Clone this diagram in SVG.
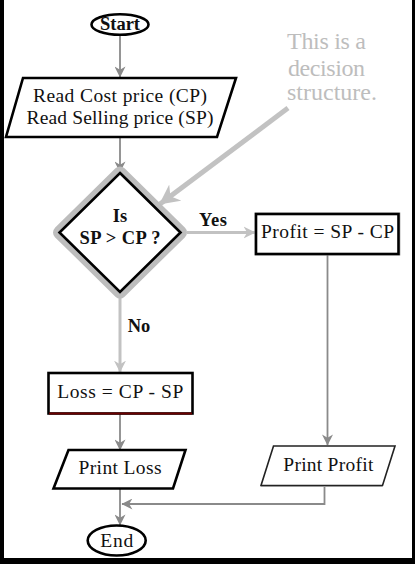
<svg xmlns="http://www.w3.org/2000/svg" width="415" height="564" viewBox="0 0 415 564">
<style>
.t{font-family:"Liberation Serif","Times New Roman",serif;font-size:19.5px;fill:#111;text-anchor:middle}
.b{font-weight:bold;font-size:18.5px}
.node{fill:#fff;stroke:#000;stroke-width:2.6}
.c1{fill:none;stroke:#8a8a8a;stroke-width:1.8}
.c2{fill:none;stroke:#c2c2c2;stroke-width:3}
.note{font-family:"Liberation Serif","Times New Roman",serif;font-size:24px;fill:#bdbdbd}
</style>
<defs>
<marker id="ad" viewBox="0 0 10 10" refX="9.5" refY="5" markerUnits="userSpaceOnUse" markerWidth="12" markerHeight="11" orient="auto">
<path d="M0,0 L10,5 L0,10 L3,5 Z" fill="#8a8a8a"/>
</marker>
<marker id="al" viewBox="0 0 10 10" refX="9.5" refY="5" markerUnits="userSpaceOnUse" markerWidth="12" markerHeight="13" orient="auto">
<path d="M0,0 L10,5 L0,10 L3,5 Z" fill="#c2c2c2"/>
</marker>
<marker id="ab" viewBox="0 0 10 10" refX="9.5" refY="5" markerUnits="userSpaceOnUse" markerWidth="20" markerHeight="20" orient="auto">
<path d="M0,0 L10,5 L0,10 L3,5 Z" fill="#c2c2c2"/>
</marker>
</defs>
<rect x="0" y="0" width="415" height="564" fill="#fff"/>
<rect x="0" y="0" width="4" height="564" fill="#000"/>
<rect x="412" y="0" width="3" height="564" fill="#000"/>
<rect x="0" y="558" width="415" height="6" fill="#000"/>

<g id="connectors">
<line class="c1" x1="120" y1="35" x2="120" y2="77" marker-end="url(#ad)"/>
<line class="c1" x1="120" y1="137" x2="120" y2="172" marker-end="url(#ad)"/>
<line class="c2" x1="187" y1="232.5" x2="255" y2="232.5" marker-end="url(#al)"/>
<line class="c2" x1="120" y1="298" x2="120" y2="372" marker-end="url(#al)"/>
<line class="c1" x1="327.5" y1="255" x2="327.5" y2="445" marker-end="url(#ad)"/>
<line class="c1" x1="120" y1="414" x2="120" y2="450" marker-end="url(#ad)"/>
<polyline class="c1" points="324.5,486 324.5,504 122,504" marker-end="url(#ad)"/>
<line class="c1" x1="120" y1="489" x2="120" y2="525" marker-end="url(#ad)"/>
<line x1="288" y1="108" x2="160" y2="204" stroke="#c2c2c2" stroke-width="5" marker-end="url(#ab)"/>
<text class="t b" x="213" y="226" textLength="28">Yes</text>
<text class="t b" x="139" y="332">No</text>
</g>

<g id="start">
<ellipse class="node" cx="120" cy="24.5" rx="28.5" ry="10.3"/>
<text class="t b" x="120" y="29.5" font-size="15">Start</text>
</g>

<g id="read">
<path class="node" stroke-width="3" d="M23,78 L236,78 L217,137 L6,137 Z"/>
<text class="t" x="120" y="102" textLength="174">Read Cost price (CP)</text>
<text class="t" x="120" y="124" textLength="187">Read Selling price (SP)</text>
</g>

<g id="decision">
<path d="M120,173 L180.5,232.5 L120,292 L59.5,232.5 Z" fill="none" stroke="#bdbdbd" stroke-width="13" stroke-linejoin="round"/>
<path class="node" stroke-width="3" d="M120,173 L180.5,232.5 L120,292 L59.5,232.5 Z"/>
<text class="t b" x="120" y="222">Is</text>
<text class="t b" x="120" y="244" textLength="81">SP &gt; CP ?</text>
</g>

<g id="profit">
<rect x="255" y="213" width="145" height="42" fill="none" stroke="#bbb" stroke-width="1"/>
<rect class="node" x="256" y="214" width="142.5" height="40"/>
<text class="t" x="327.5" y="238" textLength="133">Profit = SP - CP</text>
</g>

<g id="loss">
<rect class="node" x="48.5" y="373" width="144" height="40.5"/>
<line x1="49" y1="413.5" x2="192" y2="413.5" stroke="#6a0000" stroke-width="2"/>
<text class="t" x="120.3" y="398" textLength="126">Loss = CP - SP</text>
</g>

<g id="printLoss">
<path class="node" stroke-width="3" d="M68.5,450 L185.5,450 L173,488.5 L53.5,488.5 Z"/>
<text class="t" x="120" y="473.5" textLength="83">Print Loss</text>
</g>

<g id="printProfit">
<path d="M273.5,446 L395,446 L382.5,485.5 L261,485.5 Z" fill="#fff" stroke="#222" stroke-width="1.6"/>
<line x1="261" y1="486.5" x2="382.5" y2="486.5" stroke="#999" stroke-width="1"/>
<text class="t" x="328.3" y="470.5" textLength="90">Print Profit</text>
</g>

<g id="end">
<ellipse class="node" cx="116.7" cy="540.5" rx="29" ry="15"/>
<text class="t" x="116.7" y="546.5" textLength="33">End</text>
</g>

<g id="note">
<text class="note" x="287" y="49" textLength="79">This is a</text>
<text class="note" x="288" y="76" textLength="77">decision</text>
<text class="note" x="287" y="100" textLength="90">structure.</text>
</g>
</svg>
